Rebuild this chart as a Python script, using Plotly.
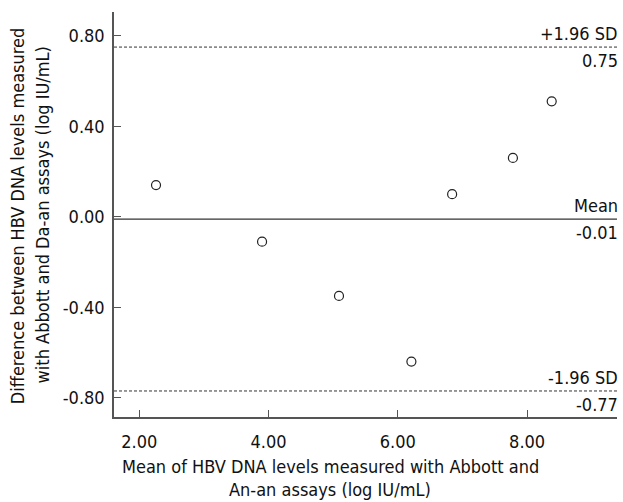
import plotly.graph_objects as go

mean_vals = [2.26, 3.90, 5.09, 6.21, 6.84, 7.78, 8.38]
diff_vals = [0.14, -0.11, -0.35, -0.64, 0.10, 0.26, 0.51]
upper_loa = 0.75
mean_diff = -0.01
lower_loa = -0.77
x_ticks = [2, 4, 6, 8]
x_tick_labels = ["2.00", "4.00", "6.00", "8.00"]
y_ticks = [-0.8, -0.4, 0.0, 0.4, 0.8]
y_tick_labels = ["-0.80", "-0.40", "0.00", "0.40", "0.80"]
x_range = [1.61, 9.39]
y_range = [-0.885, 0.905]
y_title_lines = ["Difference between HBV DNA levels measured",
                 "with Abbott and Da-an assays (log IU/mL)"]
x_title_lines = ["Mean of HBV DNA levels measured with Abbott and",
                 "An-an assays (log IU/mL)"]

FONT = "DejaVu Sans Condensed, DejaVu Sans"
FS = 18
AX = "#555555"
TXT = "#111111"
fig = go.Figure()
fig.add_trace(go.Scatter(
    x=mean_vals, y=diff_vals, mode="markers",
    marker=dict(symbol="circle-open", size=9, color="#222222", line=dict(width=1.2)),
    showlegend=False, cliponaxis=False))

for yv, solid in [(upper_loa, False), (mean_diff, True), (lower_loa, False)]:
    fig.add_shape(type="line", xref="paper", x0=0, x1=1, yref="y", y0=yv, y1=yv,
                  line=dict(color="#333333", width=1.2 if solid else 1,
                            dash="solid" if solid else "3px,2px"))

labels = [(upper_loa, "+1.96 SD"), (mean_diff, "Mean"), (lower_loa, "-1.96 SD")]
anns = []
for yv, top in labels:
    anns.append(dict(x=1, xref="paper", y=yv, yref="y", text=top, showarrow=False,
                     xanchor="right", yanchor="bottom", yshift=1, xshift=3,
                     font=dict(size=FS, color=TXT)))
    anns.append(dict(x=1, xref="paper", y=yv, yref="y", text="{:.2f}".format(yv), showarrow=False,
                     xanchor="right", yanchor="top", yshift=-1, xshift=3,
                     font=dict(size=FS, color=TXT)))

for xp, line in zip([-0.193, -0.143], y_title_lines):
    anns.append(dict(x=xp, xref="paper", y=0.498, yref="paper", textangle=-90, showarrow=False,
                     text=line, xanchor="center", yanchor="middle", font=dict(size=FS, color=TXT)))
for yp, line in zip([-0.121, -0.180], x_title_lines):
    anns.append(dict(x=0.43, xref="paper", y=yp, yref="paper", showarrow=False,
                     text=line, xanchor="center", yanchor="middle", font=dict(size=FS, color=TXT)))

fig.update_layout(
    width=623, height=502,
    margin=dict(l=114, r=6, t=12, b=85),
    paper_bgcolor="white", plot_bgcolor="white",
    font=dict(family=FONT, size=FS, color=TXT),
    annotations=anns,
    xaxis=dict(range=x_range, tickvals=x_ticks, ticktext=x_tick_labels, ticks="inside",
               ticklen=7, tickcolor=AX, showline=True, linecolor=AX, linewidth=1.5,
               showgrid=False, zeroline=False, ticklabelstandoff=8),
    yaxis=dict(range=y_range, tickvals=y_ticks, ticktext=y_tick_labels, ticks="inside",
               ticklen=7, tickcolor=AX, showline=True, linecolor=AX, linewidth=1.5,
               showgrid=False, zeroline=False, ticklabelstandoff=4),
)
fig.write_html("out.html")
